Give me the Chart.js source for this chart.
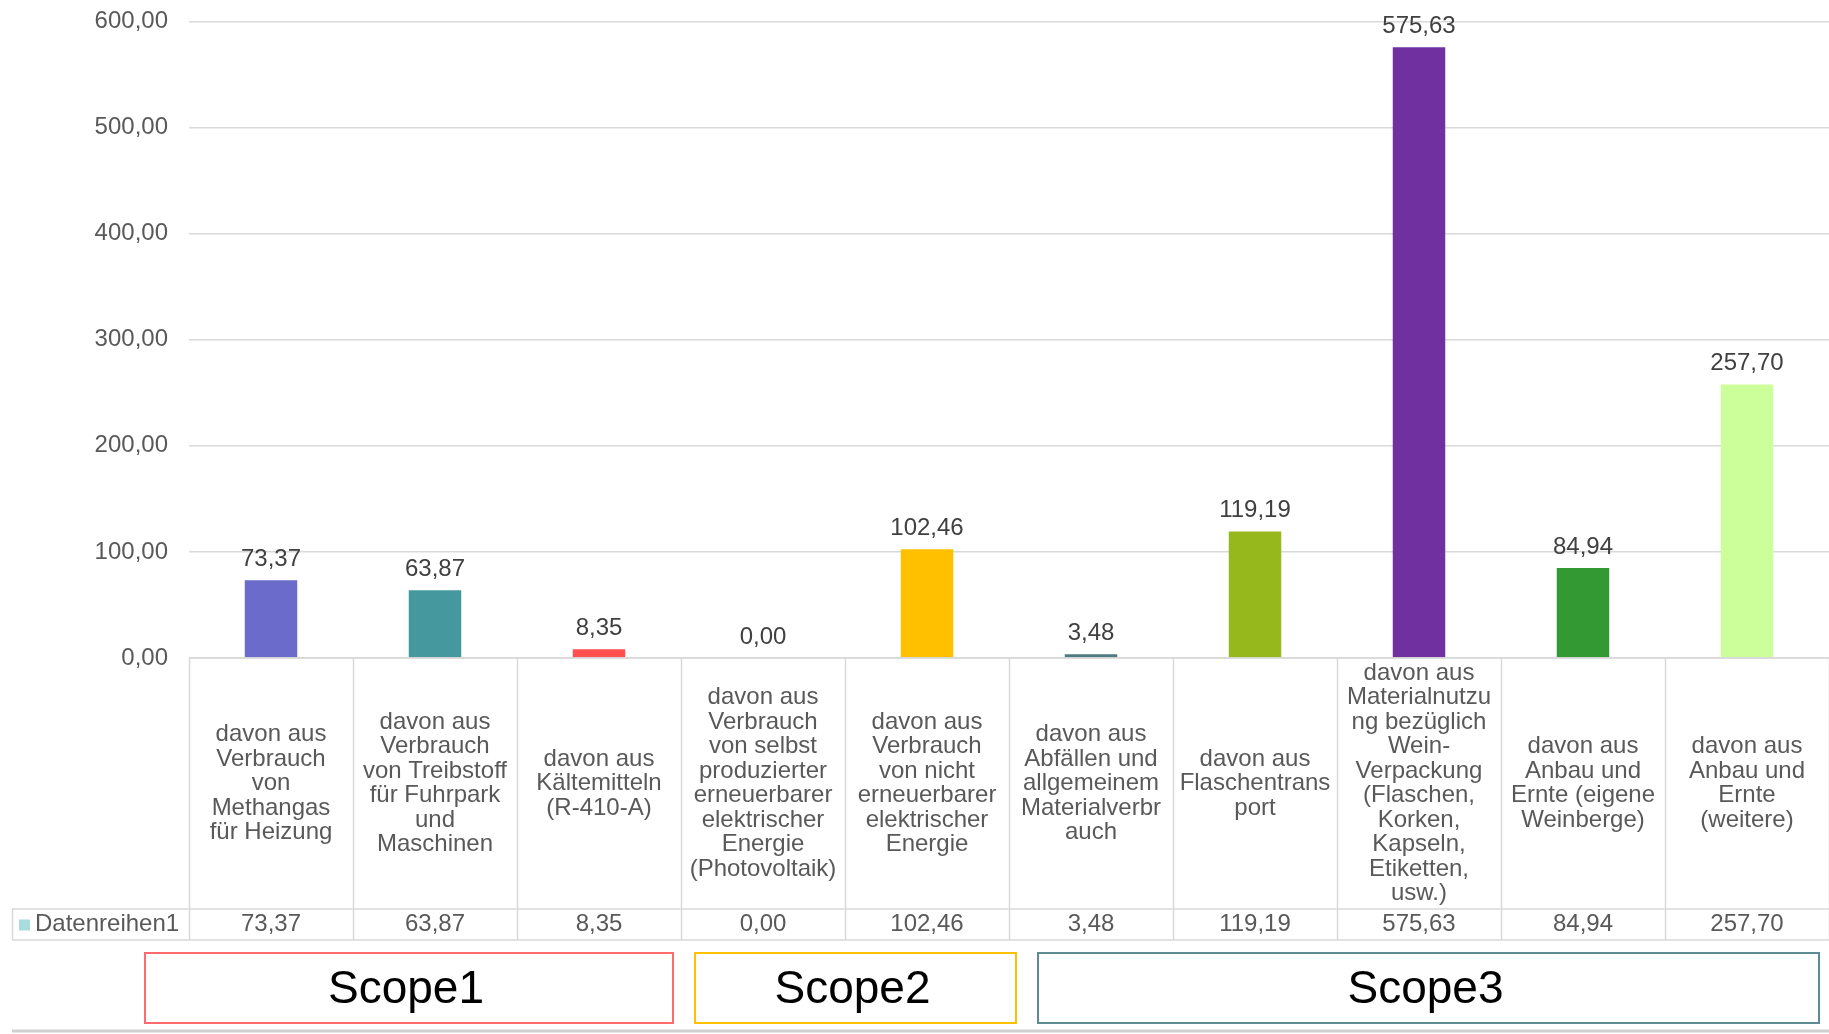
<!DOCTYPE html>
<html>
<head>
<meta charset="utf-8">
<script src="https://cdn.jsdelivr.net/npm/chart.js@4/dist/chart.umd.min.js"></script>
<style>
  html, body { margin: 0; padding: 0; background: #ffffff; }
  #wrap { width: 1829px; height: 1034px; position: relative; }
</style>
</head>
<body>
<div id="wrap"><canvas id="c" width="1829" height="1034"></canvas></div>
<script>
// ---- data ----
const seriesName = "Datenreihen1";
const categories = [
  ["davon aus", "Verbrauch", "von", "Methangas", "für Heizung"],
  ["davon aus", "Verbrauch", "von Treibstoff", "für Fuhrpark", "und", "Maschinen"],
  ["davon aus", "Kältemitteln", "(R-410-A)"],
  ["davon aus", "Verbrauch", "von selbst", "produzierter", "erneuerbarer", "elektrischer", "Energie", "(Photovoltaik)"],
  ["davon aus", "Verbrauch", "von nicht", "erneuerbarer", "elektrischer", "Energie"],
  ["davon aus", "Abfällen und", "allgemeinem", "Materialverbr", "auch"],
  ["davon aus", "Flaschentrans", "port"],
  ["davon aus", "Materialnutzu", "ng bezüglich", "Wein-", "Verpackung", "(Flaschen,", "Korken,", "Kapseln,", "Etiketten,", "usw.)"],
  ["davon aus", "Anbau und", "Ernte (eigene", "Weinberge)"],
  ["davon aus", "Anbau und", "Ernte", "(weitere)"]
];
const values = [73.37, 63.87, 8.35, 0.00, 102.46, 3.48, 119.19, 575.63, 84.94, 257.70];
const barColors = ["#6B6BCC", "#45989E", "#FF5050", "#8FAADC", "#FFC000", "#4E7A82", "#97B81C", "#7030A0", "#339933", "#CCFF99"];
const scopeNames = ["Scope1", "Scope2", "Scope3"];
const scopeRanges = [[0, 2], [3, 4], [5, 9]];   // category index ranges per scope
const scopeColors = ["#FF6B6B", "#FFC000", "#5E8A94"];
const yMin = 0, yMax = 600, yStep = 100;

const fmt = v => v.toFixed(2).replace('.', ',');
const FONT = '"Liberation Sans", Arial, sans-serif';

const tablePlugin = {
  id: 'tablePlugin',
  afterDraw(chart) {
    const ctx = chart.ctx;
    const xs = chart.scales.x, ys = chart.scales.y;
    const meta = chart.getDatasetMeta(0);
    const n = categories.length;
    const base = ys.getPixelForValue(0);
    const labelBottom = base + 251;
    const rowBottom = labelBottom + 31;
    const tableLeft = 12;
    const W = chart.width;

    // category boundaries
    const bounds = [];
    for (let i = 0; i <= n; i++) {
      if (i === 0) bounds.push(xs.left);
      else if (i === n) bounds.push(xs.right);
      else bounds.push((xs.getPixelForValue(i - 1) + xs.getPixelForValue(i)) / 2);
    }

    ctx.save();
    // data labels
    ctx.fillStyle = '#404040';
    ctx.font = '24px ' + FONT;
    ctx.textAlign = 'center';
    ctx.textBaseline = 'middle';
    meta.data.forEach((bar, i) => {
      ctx.fillText(fmt(values[i]), bar.x, bar.y - 21);
    });

    // table lines
    ctx.strokeStyle = '#d9d9d9';
    ctx.lineWidth = 1.5;
    ctx.beginPath();
    bounds.forEach(b => {
      ctx.moveTo(Math.round(b) + 0.5, base);
      ctx.lineTo(Math.round(b) + 0.5, rowBottom);
    });
    ctx.moveTo(tableLeft, labelBottom); ctx.lineTo(W, labelBottom);
    ctx.moveTo(tableLeft, rowBottom); ctx.lineTo(W, rowBottom);
    ctx.moveTo(tableLeft + 0.5, labelBottom); ctx.lineTo(tableLeft + 0.5, rowBottom);
    ctx.moveTo(xs.left, base); ctx.lineTo(W, base);
    ctx.stroke();

    // category labels
    ctx.fillStyle = '#595959';
    ctx.font = '24px ' + FONT;
    const lh = 24.5;
    const midY = (base + labelBottom) / 2;
    categories.forEach((lines, i) => {
      const cx = xs.getPixelForValue(i);
      const y0 = midY - (lines.length - 1) * lh / 2;
      lines.forEach((t, k) => ctx.fillText(t, cx, y0 + k * lh));
    });

    // data row
    const rowMid = (labelBottom + rowBottom) / 2;
    values.forEach((v, i) => ctx.fillText(fmt(v), xs.getPixelForValue(i), rowMid));
    ctx.fillStyle = '#A9DCDF';
    ctx.fillRect(19, rowMid - 5, 11, 11);
    ctx.fillStyle = '#595959';
    ctx.textAlign = 'left';
    ctx.fillText(seriesName, 35, rowMid);

    // scope boxes
    const insets = [[-44, -8], [14, 7], [29, -10]];
    const boxTop = rowBottom + 13, boxBottom = rowBottom + 83;
    scopeNames.forEach((name, s) => {
      const l = bounds[scopeRanges[s][0]] + insets[s][0];
      const r = bounds[scopeRanges[s][1] + 1] + insets[s][1];
      ctx.strokeStyle = scopeColors[s];
      ctx.lineWidth = 2;
      ctx.strokeRect(l, boxTop, r - l, boxBottom - boxTop);
      ctx.fillStyle = '#000000';
      ctx.font = '46px ' + FONT;
      ctx.textAlign = 'center';
      ctx.fillText(name, (l + r) / 2 - 3, (boxTop + boxBottom) / 2 + 2);
    });

    // bottom line
    ctx.strokeStyle = '#d0d0d0';
    ctx.lineWidth = 3;
    ctx.beginPath();
    ctx.moveTo(tableLeft, 1031); ctx.lineTo(W, 1031);
    ctx.stroke();
    ctx.restore();
  }
};

new Chart(document.getElementById('c'), {
  type: 'bar',
  data: {
    labels: categories.map(c => c.join(' ')),
    datasets: [{
      label: seriesName,
      data: values,
      backgroundColor: barColors,
      borderWidth: 0,
      categoryPercentage: 1.0,
      barPercentage: 0.32
    }]
  },
  options: {
    responsive: false,
    animation: false,
    events: [],
    layout: { padding: { top: 0, right: 0, bottom: 376, left: 0 } },
    plugins: { legend: { display: false }, tooltip: { enabled: false } },
    scales: {
      x: { display: false, offset: true },
      y: {
        min: yMin, max: yMax,
        afterFit(scale) { scale.width = 189; },
        ticks: {
          stepSize: yStep,
          padding: 7,
          color: '#595959',
          font: { family: FONT, size: 24 },
          callback: v => fmt(v)
        },
        grid: { color: '#d9d9d9', lineWidth: 1.5, drawTicks: true, tickLength: 14, tickColor: 'rgba(0,0,0,0)' },
        border: { display: false }
      }
    }
  },
  plugins: [tablePlugin]
});
</script>
</body>
</html>
